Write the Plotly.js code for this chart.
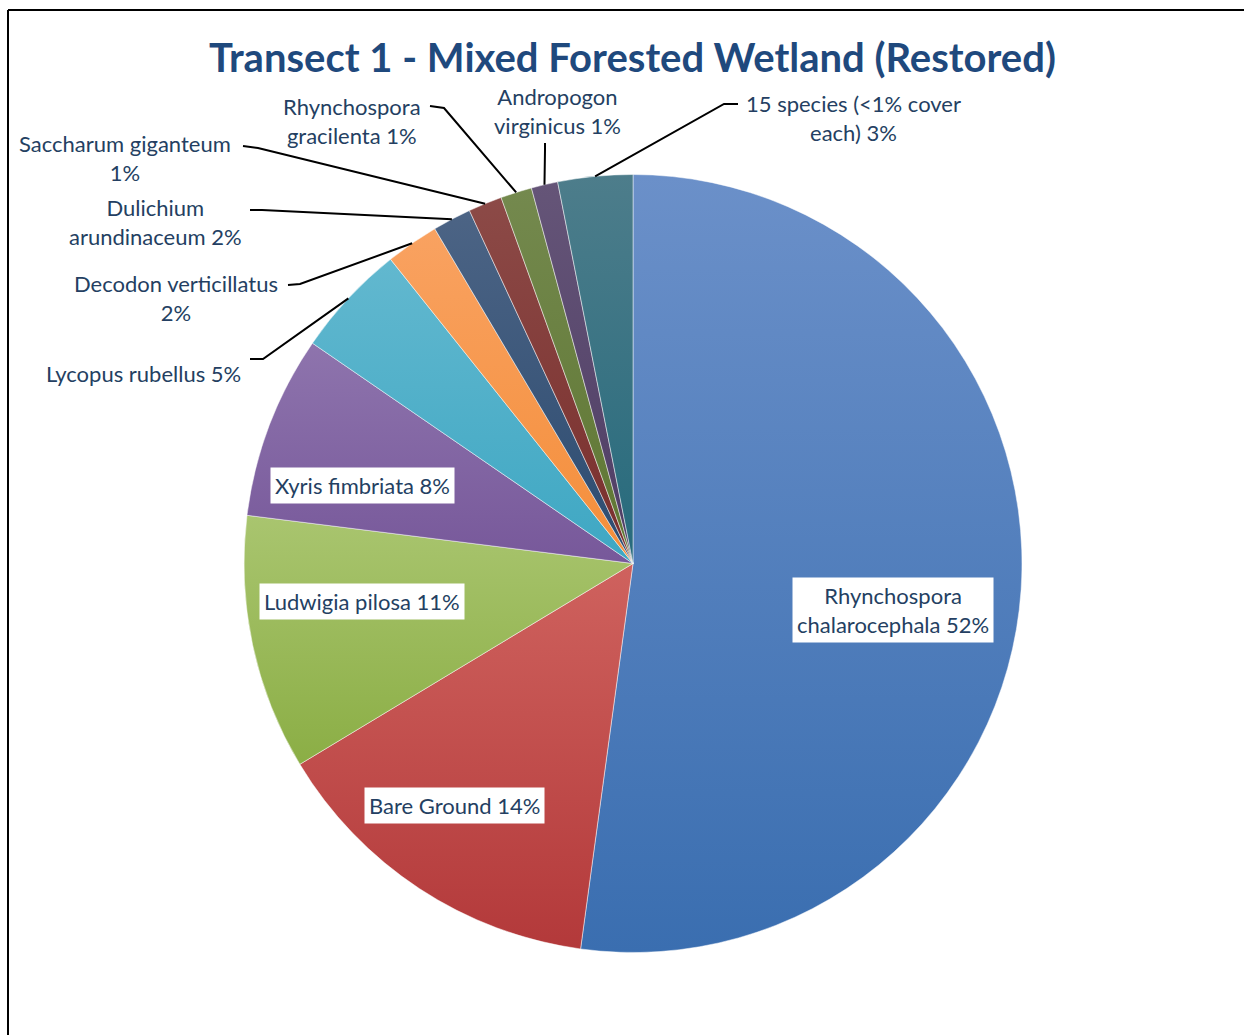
<!DOCTYPE html>
<html><head><meta charset="utf-8">
<script src="https://cdn.plot.ly/plotly-3.0.1.min.js"></script>
<style>html,body{margin:0;padding:0;background:#fff;overflow:hidden}#chart{width:1244px;height:1035px}</style>
</head><body><div id="chart"></div>
<script>
// ---- data ----
const categories = ["Rhynchospora chalarocephala","Bare Ground","Ludwigia pilosa","Xyris fimbriata","Lycopus rubellus","Decodon verticillatus","Dulichium arundinaceum","Saccharum giganteum","Rhynchospora gracilenta","Andropogon virginicus","15 species (<1% cover each)"];
const cover = [52.1, 14.2, 10.6, 7.6, 4.7, 2.2, 1.6, 1.4, 1.3, 1.1, 3.1];
// label text with line breaks (same names as categories)
const labelLines = ["Rhynchospora<br>chalarocephala","Bare Ground","Ludwigia pilosa","Xyris fimbriata","Lycopus rubellus","Decodon verticillatus<br>","Dulichium<br>arundinaceum","Saccharum giganteum<br>","Rhynchospora<br>gracilenta","Andropogon<br>virginicus","15 species (<1% cover<br>each)"];

// ---- styles / layout ----
const W = 1244, H = 1035;
const CX = 633, CY = 563.5, R = 389;
const topCol = ['#6b90c9','#cf625e','#a9c56f','#8e74ad','#62b8cf','#f9a261','#4c6485','#8c4a47','#74894e','#655578','#4d7d8b'];
const botCol = ['#3a6eb0','#b3393a','#8bae45','#77589a','#3ea7c3','#f48e3a','#2c4b70','#792e2c','#5e7632','#4e3c64','#266a7c'];
const txtCol = '#243f62';
// label centres (px); inside labels get white boxes
const labelPos = [[893,610,true],[454,805,true],[362,601,true],[362,485,true],[143,374,false],[176,298,false],[155,222,false],[125,158,false],[352,121,false],[557,111,false],[853,118,false]];
// leader lines: start point and bend point (px), end computed on the pie edge
const leaders = {4:[[250,359],[263,359]],5:[[288,285],[300,284]],6:[[250,210],[262,210]],7:[[243,146],[258,148]],8:[[430,106],[444,108]],9:[[545,143],[545,150]],10:[[738,104],[724,104]]};

const px = x => x / W, py = y => 1 - y / H;
const total = cover.reduce((a,b)=>a+b,0);
const pct = cover.map(v => Math.round(v/total*100) + '%');

let cum = 0;
const midAng = cover.map(v => { const a = (cum + v/2)/total*2*Math.PI; cum += v; return a; });

const annotations = [{
  text: '<b>Transect 1 - Mixed Forested Wetland (Restored)</b>',
  x: px(632), y: py(57), xref:'paper', yref:'paper', showarrow:false,
  xanchor:'center', yanchor:'middle',
  font:{family:'Lato, "Open Sans", sans-serif', size:40, color:'#1f497d'}
}];
const shapes = [
  {type:'line', xref:'paper', yref:'paper', x0:px(8), y0:py(10), x1:1.01, y1:py(10), line:{color:'#000', width:2}},
  {type:'line', xref:'paper', yref:'paper', x0:px(8), y0:py(10), x1:px(8), y1:-0.01, line:{color:'#000', width:2}}
];
categories.forEach((c,i) => {
  const [lx, ly, inside] = labelPos[i];
  let t = labelLines[i];
  t = t.endsWith('<br>') ? t + pct[i] : t + ' ' + pct[i];
  annotations.push({
    text: t, x: px(lx), y: py(ly), xref:'paper', yref:'paper', showarrow:false,
    xanchor:'center', yanchor:'middle', align:'center',
    font:{family:'Lato, "Open Sans", sans-serif', size:22, color:txtCol},
    bgcolor: inside ? '#ffffff' : 'rgba(0,0,0,0)', borderpad: inside ? 4 : 0
  });
  if (leaders[i]) {
    const ex = CX + R*Math.sin(midAng[i]), ey = CY - R*Math.cos(midAng[i]);
    const [s, b] = leaders[i];
    shapes.push({type:'path', xref:'paper', yref:'paper',
      path:`M${px(s[0])},${py(s[1])} L${px(b[0])},${py(b[1])} L${px(ex)},${py(ey)}`,
      line:{color:'#000', width:2}});
  }
});

const trace = {
  type:'pie', labels:categories, values:cover, sort:false, direction:'clockwise', rotation:0,
  textinfo:'none', hoverinfo:'label+percent',
  marker:{colors:topCol, line:{color:'rgba(255,255,255,0.6)', width:0.8}},
  domain:{x:[px(CX-R), px(CX+R)], y:[1-(CY+R)/H, 1-(CY-R)/H]}
};
const layout = {
  width:W, height:H, margin:{l:0,r:0,t:0,b:0}, showlegend:false,
  paper_bgcolor:'#fff', annotations, shapes
};
Plotly.newPlot('chart', [trace], layout, {displayModeBar:false, staticPlot:true}).then(gd => {
  const svg = gd.querySelector('svg.main-svg');
  let defs = svg.querySelector('defs');
  const NS = 'http://www.w3.org/2000/svg';
  gd.querySelectorAll('g.slice').forEach((g,i) => {
    const lg = document.createElementNS(NS,'linearGradient');
    lg.setAttribute('id','sg'+i); lg.setAttribute('x1','0'); lg.setAttribute('y1','0'); lg.setAttribute('x2','0'); lg.setAttribute('y2','1');
    [[0,topCol[i]],[1,botCol[i]]].forEach(([o,c]) => {
      const st = document.createElementNS(NS,'stop'); st.setAttribute('offset',o); st.setAttribute('stop-color',c); lg.appendChild(st);
    });
    defs.appendChild(lg);
    const p = g.querySelector('path.surface');
    if (p) p.style.fill = 'url(#sg'+i+')';
  });
});
</script></body></html>
